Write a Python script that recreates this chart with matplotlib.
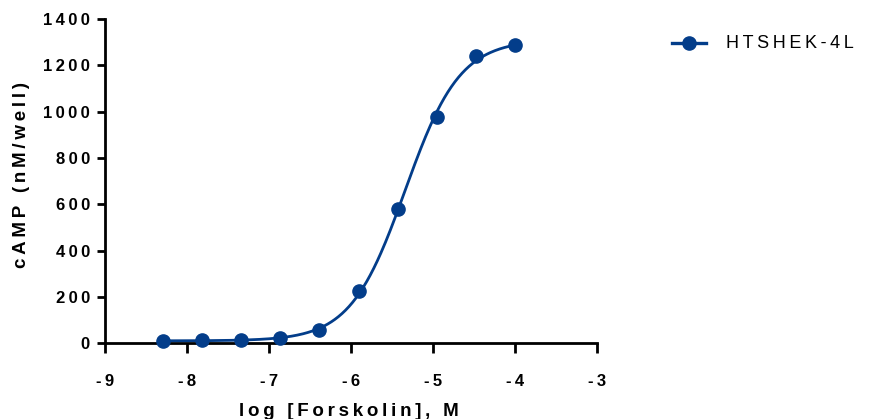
# cAMP dose-response plot for forskolin

import numpy as np
import matplotlib.pyplot as plt

log_conc = [-8.294, -7.817, -7.340, -6.863, -6.386, -5.908, -5.431, -4.954, -4.477, -4.0]
camp = [11, 13, 13, 21, 58, 224, 578, 978, 1240, 1286]
series_name = 'HTSHEK-4L'

# 4-parameter logistic fit parameters
fit_bottom = 10
fit_top = 1310
fit_logec50 = -5.34
fit_hill = 1.3

xticks = [-9, -8, -7, -6, -5, -4, -3]
yticks = [0, 200, 400, 600, 800, 1000, 1200, 1400]

color = '#033d8a'
families = ['Liberation Sans', 'DejaVu Sans']


def spaced(s):
    # Prism style wide letter spacing
    return '\u2009'.join(s)


plt.rcParams['font.family'] = families

fig = plt.figure(figsize=(8.69, 4.19), dpi=100)
ax = fig.add_axes([0.121, 0.181, 0.566, 0.774])

xc = np.linspace(log_conc[0], log_conc[-1], 300)
yc = fit_bottom + (fit_top - fit_bottom) / (1 + 10 ** ((fit_logec50 - xc) * fit_hill))
ax.plot(xc, yc, color=color, lw=2.0, zorder=3, clip_on=False)
ax.plot(log_conc, camp, 'o', color=color, ms=9.5, zorder=4, clip_on=False)

ax.set_xlim(-9, -3)
ax.set_ylim(0, 1400)
for side in ['top', 'right']:
    ax.spines[side].set_visible(False)
for side in ['left', 'bottom']:
    ax.spines[side].set_linewidth(2.0)

ax.set_xticks(xticks)
ax.set_xticklabels([spaced(str(t)) for t in xticks], fontsize=12, fontweight='bold')
ax.set_yticks(yticks)
ax.set_yticklabels([spaced(str(t)) for t in yticks], fontsize=12, fontweight='bold')
ax.tick_params(axis='x', length=7, width=2.0, pad=15)
ax.tick_params(axis='y', length=6, width=2.0, pad=5)

ax.set_xlabel(spaced('log [Forskolin], M'), fontsize=13.5, fontweight='bold')
ax.xaxis.set_label_coords(0.495, -0.185)
ax.set_ylabel(spaced('cAMP (nM/well)'), fontsize=13.5, fontweight='bold')
ax.yaxis.set_label_coords(-0.152, 0.52)

# legend drawn by hand to match position
leg = plt.Line2D([0.773, 0.7925, 0.812], [0.897, 0.897, 0.897], color=color, lw=2.4,
                 marker='o', markevery=[1], ms=9.5, transform=fig.transFigure)
fig.lines.append(leg)
fig.text(0.836, 0.897, spaced(series_name), fontsize=13, va='center', ha='left')

fig.savefig('out.png', dpi=100)
